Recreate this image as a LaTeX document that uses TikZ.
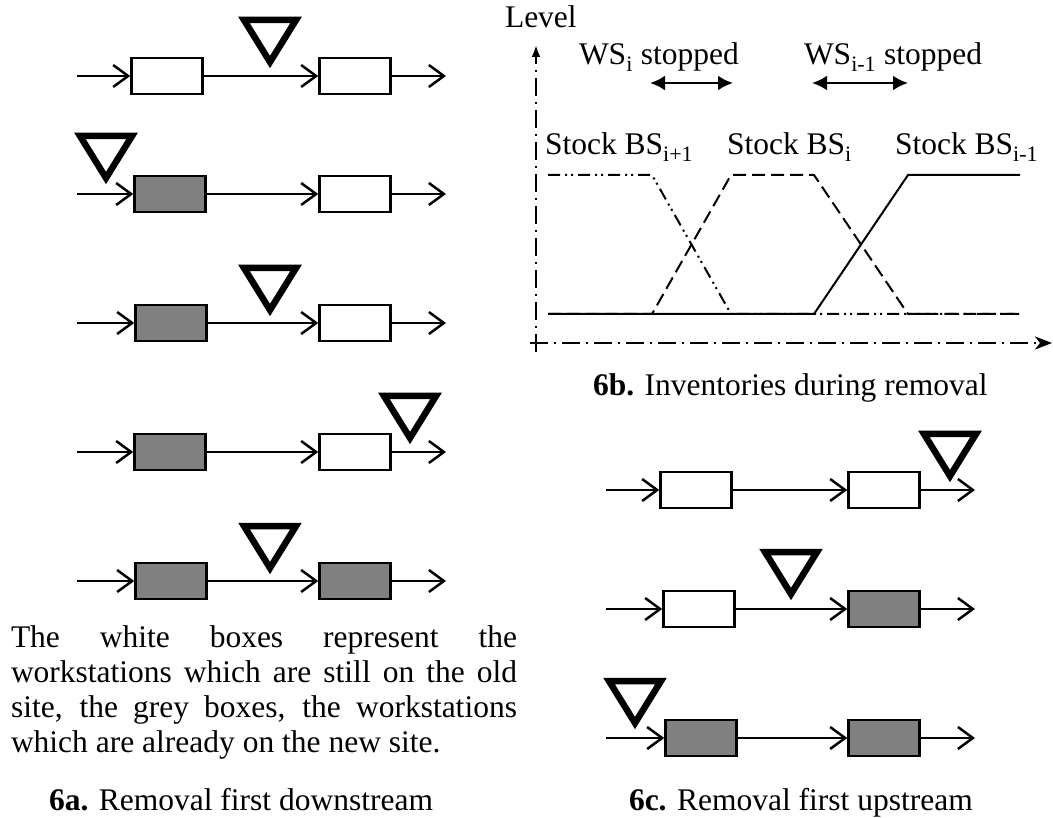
\documentclass[tikz,border=0pt]{standalone}
\usepackage{fontspec}
\setmainfont{Liberation Serif}
\usetikzlibrary{arrows.meta}
\hbadness=10000
\tikzset{every picture/.style={x=1pt,y=-1pt,line width=2pt,font=\fontsize{31.5}{35}\selectfont},
station/.style={rectangle,draw,line width=2.5pt,minimum width=71pt,minimum height=36pt,inner sep=0pt},
oldsite/.style={station,fill=white},
newsite/.style={station,fill=black!50},
flow/.style={-{Straight Barb[length=15pt,width=22pt]},line width=2.5pt},
buffer/.pic={\draw[line width=6.5pt] (0,-6) -- (-26,-48) -- (26,-48) -- cycle;},
txt/.style={inner sep=0pt,anchor=base west},
axis/.style={line width=2.5pt,dash pattern=on 18pt off 6pt on 2pt off 6pt},
span/.style={{Latex[length=15pt,width=15pt]}-{Latex[length=15pt,width=15pt]},line width=2.5pt},
bsnext/.style={dash pattern=on 12pt off 5pt on 2pt off 4pt on 2pt off 5pt},
bscur/.style={dash pattern=on 13pt off 6pt},
bsprev/.style={solid}}

\begin{document}
\begin{tikzpicture}
\useasboundingbox (0,0) rectangle (1053,818);

% 6a: removal first downstream
\coordinate (a1in) at (77,76);
\node (a1l) at (167,76) [oldsite] {};
\node (a1r) at (355,76) [oldsite] {};
\coordinate (a1out) at (446,76);
\draw[flow] (a1in) -- (a1l);
\draw[flow] (a1l) -- (a1r);
\draw[flow] (a1r) -- (a1out);
\pic at (270,68) {buffer};

\coordinate (a2in) at (77,194);
\node (a2l) at (170,194) [newsite] {};
\node (a2r) at (355,194) [oldsite] {};
\coordinate (a2out) at (446,194);
\draw[flow] (a2in) -- (a2l);
\draw[flow] (a2l) -- (a2r);
\draw[flow] (a2r) -- (a2out);
\pic at (106,184) {buffer};

\coordinate (a3in) at (77,323);
\node (a3l) at (171,323) [newsite] {};
\node (a3r) at (355,323) [oldsite] {};
\coordinate (a3out) at (446,323);
\draw[flow] (a3in) -- (a3l);
\draw[flow] (a3l) -- (a3r);
\draw[flow] (a3r) -- (a3out);
\pic at (270,316) {buffer};

\coordinate (a4in) at (77,452);
\node (a4l) at (170,452) [newsite] {};
\node (a4r) at (355,452) [oldsite] {};
\coordinate (a4out) at (446,452);
\draw[flow] (a4in) -- (a4l);
\draw[flow] (a4l) -- (a4r);
\draw[flow] (a4r) -- (a4out);
\pic at (410,444) {buffer};

\coordinate (a5in) at (77,581);
\node (a5l) at (171,581) [newsite] {};
\node (a5r) at (355,581) [newsite] {};
\coordinate (a5out) at (446,581);
\draw[flow] (a5in) -- (a5l);
\draw[flow] (a5l) -- (a5r);
\draw[flow] (a5r) -- (a5out);
\pic at (270,574) {buffer};

\node (note) at (10,625) [inner sep=0pt,anchor=north west,text width=506pt,align=justify] {The white boxes represent the\linebreak workstations which are still on the old\linebreak site, the grey boxes, the workstations\linebreak which are already on the new site.};
\node (cap6a) at (48,810) [txt] {\textbf{6a.} Removal first downstream};

% 6b: inventories
\coordinate (yb) at (536,352);
\coordinate (yt) at (536,45);
\coordinate (xl) at (530,343);
\coordinate (xr) at (1052,343);
\draw[axis,-{Latex[length=12pt,width=9pt]}] (yb) -- (yt);
\draw[axis,-{Stealth[length=17pt,width=13pt,inset=5pt]}] (xl) -- (xr);
\node (level) at (504,28) [txt] {Level};

\node (ws1) at (578,65) [txt] {WS\textsubscript{i} stopped};
\node (ws2) at (803,65) [txt] {WS\textsubscript{i-1} stopped};
\coordinate (s1a) at (650,83);
\coordinate (s1b) at (733,83);
\coordinate (s2a) at (812,83);
\coordinate (s2b) at (908,83);
\draw[span] (s1a) -- (s1b);
\draw[span] (s2a) -- (s2b);

\node (bs3) at (544,155) [txt] {Stock BS\textsubscript{i+1}};
\node (bs2) at (726,155) [txt] {Stock BS\textsubscript{i}};
\node (bs1) at (894,155) [txt] {Stock BS\textsubscript{i-1}};

\draw[bsnext] (548,175) -- (652,175) -- (731,314) -- (1020,314);
\draw[bscur] (548,314) -- (652,314) -- (731,175) -- (814,175) -- (908,314) -- (1020,314);
\draw[bsprev] (548,314) -- (814,314) -- (908,175) -- (1020,175);

\node (cap6b) at (592,396) [txt] {\textbf{6b.} Inventories during removal};

% 6c: removal first upstream
\coordinate (c1in) at (606,490);
\node (c1l) at (696,490) [oldsite] {};
\node (c1r) at (884,490) [oldsite] {};
\coordinate (c1out) at (975,490);
\draw[flow] (c1in) -- (c1l);
\draw[flow] (c1l) -- (c1r);
\draw[flow] (c1r) -- (c1out);
\pic at (950,482) {buffer};

\coordinate (c2in) at (606,609);
\node (c2l) at (699,609) [oldsite] {};
\node (c2r) at (884,609) [newsite] {};
\coordinate (c2out) at (975,609);
\draw[flow] (c2in) -- (c2l);
\draw[flow] (c2l) -- (c2r);
\draw[flow] (c2r) -- (c2out);
\pic at (791,600) {buffer};

\coordinate (c3in) at (606,738);
\node (c3l) at (701,738) [newsite] {};
\node (c3r) at (884,738) [newsite] {};
\coordinate (c3out) at (975,738);
\draw[flow] (c3in) -- (c3l);
\draw[flow] (c3l) -- (c3r);
\draw[flow] (c3r) -- (c3out);
\pic at (635,729) {buffer};

\node (cap6c) at (628,810) [txt] {\textbf{6c.} Removal first upstream};
\end{tikzpicture}
\end{document}
